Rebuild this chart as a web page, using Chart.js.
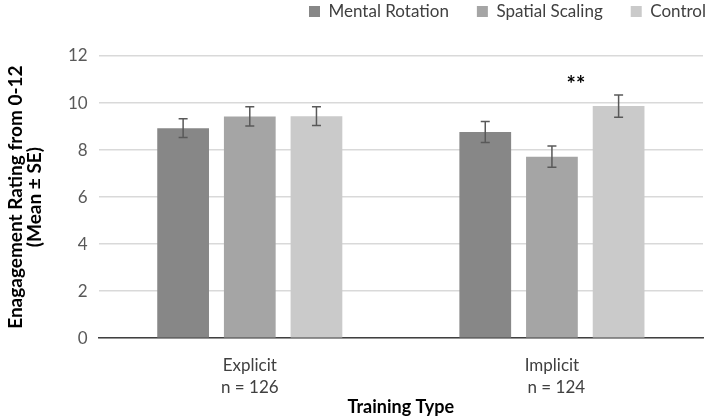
<!DOCTYPE html>
<html>
<head>
<meta charset="utf-8">
<script src="https://cdn.jsdelivr.net/npm/chart.js@4/dist/chart.umd.min.js"></script>
<style>
  html, body { margin: 0; padding: 0; background: #fff; }
  #wrap { width: 709px; height: 418px; position: relative; }
</style>
</head>
<body>
<div id="wrap"><canvas id="chart"></canvas></div>
<script>
// categories and series
const categories = [['Explicit', 'n = 126'], ['Implicit', '  n = 124']];
const seriesNames = ['Mental Rotation', 'Spatial Scaling', 'Control'];
const mentalRotation = [8.93, 8.77];
const spatialScaling = [9.43, 7.72];
const controlGroup = [9.44, 9.87];
// standard errors
const mentalRotationSE = [0.40, 0.45];
const spatialScalingSE = [0.41, 0.45];
const controlGroupSE = [0.40, 0.47];
const yTicks = [0, 2, 4, 6, 8, 10, 12];
// significance marker: category index, label, height in data units
const sigCategory = 1;
const sigLabel = '**';
const sigValue = 10.75;

const colors = ['#878787', '#a5a5a5', '#cacaca'];
const seData = [mentalRotationSE, spatialScalingSE, controlGroupSE];

// extra room under the legend, and shift it to the right edge
const legendTweak = {
  id: 'legendTweak',
  beforeInit(chart) {
    const lg = chart.legend;
    const fit = lg.fit;
    lg.fit = function () {
      fit.call(this);
      this.height += 24;
    };
    const draw = lg.draw;
    lg.draw = function (area) {
      const ctx = chart.ctx;
      ctx.save();
      ctx.translate(31, -2);
      draw.call(this, area);
      ctx.restore();
    };
  }
};

const errorBars = {
  id: 'errorBars',
  afterDatasetsDraw(chart) {
    const ctx = chart.ctx;
    const y = chart.scales.y;
    ctx.save();
    ctx.strokeStyle = '#595959';
    ctx.lineWidth = 1.5;
    chart.data.datasets.forEach((ds, i) => {
      const meta = chart.getDatasetMeta(i);
      meta.data.forEach((bar, j) => {
        const v = ds.data[j], se = seData[i][j];
        const top = y.getPixelForValue(v + se);
        const bot = y.getPixelForValue(v - se);
        ctx.beginPath();
        ctx.moveTo(bar.x, top); ctx.lineTo(bar.x, bot);
        ctx.moveTo(bar.x - 4.5, top); ctx.lineTo(bar.x + 4.5, top);
        ctx.moveTo(bar.x - 4.5, bot); ctx.lineTo(bar.x + 4.5, bot);
        ctx.stroke();
      });
    });
    // significance stars between spatial scaling and control bars
    const ss = chart.getDatasetMeta(1).data[sigCategory];
    const ct = chart.getDatasetMeta(2).data[sigCategory];
    ctx.fillStyle = '#000';
    ctx.font = 'bold 22px Lato';
    ctx.textAlign = 'center';
    ctx.textBaseline = 'middle';
    ctx.fillText(sigLabel, ss.x + (ct.x - ss.x) * 0.36, y.getPixelForValue(sigValue));
    ctx.restore();
  }
};

function drawChart() {
  new Chart(document.getElementById('chart'), {
    type: 'bar',
    data: {
      labels: categories,
      datasets: [mentalRotation, spatialScaling, controlGroup].map((d, i) => ({
        label: seriesNames[i],
        data: d,
        backgroundColor: colors[i],
        categoryPercentage: 0.662,
        barPercentage: 0.776
      }))
    },
    options: {
      responsive: true,
      maintainAspectRatio: false,
      animation: false,
      layout: { padding: { top: -23, right: 6, left: 6, bottom: 0 } },
      plugins: {
        legend: {
          position: 'top',
          align: 'end',
          labels: {
            boxWidth: 11, boxHeight: 11, padding: 28,
            color: '#404040',
            font: { family: 'Lato', size: 17 }
          }
        },
        tooltip: { enabled: false }
      },
      scales: {
        y: {
          min: 0, max: 12,
          afterBuildTicks: s => { s.ticks = yTicks.map(v => ({ value: v })); },
          grid: { color: '#d9d9d9', lineWidth: 1.5, drawTicks: false },
          border: { display: false },
          ticks: { color: '#595959', padding: 11, font: { family: 'Lato', size: 17 } },
          title: {
            display: true,
            text: ['Enagagement Rating from 0-12', '(Mean ± SE)'],
            color: '#000',
            font: { family: 'Lato', size: 19, weight: 'bold', lineHeight: 1.0 },
            padding: { top: 0, bottom: 13 }
          }
        },
        x: {
          grid: { display: false },
          border: { display: true, color: '#404040', width: 1.5 },
          ticks: { color: '#404040', padding: 8, font: { family: 'Lato', size: 17, lineHeight: 1.3 } },
          title: {
            display: true,
            text: 'Training Type',
            color: '#000',
            font: { family: 'Lato', size: 18, weight: 'bold' },
            padding: { top: -10, bottom: 0 }
          }
        }
      }
    },
    plugins: [legendTweak, errorBars]
  });
}

Promise.all([
  document.fonts.load('17px Lato'),
  document.fonts.load('bold 19px Lato')
]).then(drawChart, drawChart);
</script>
</body>
</html>
